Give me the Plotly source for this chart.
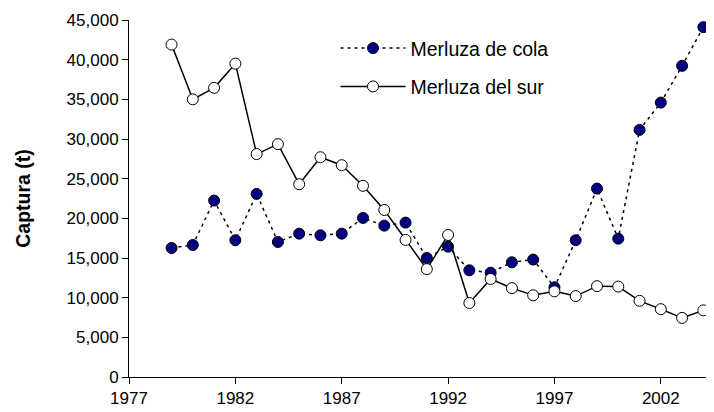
import plotly.graph_objects as go

years = list(range(1979, 2005))
merluza_de_cola = [16260, 16640, 22240, 17240, 23080, 17020, 18070, 17860, 18070, 20050,
                   19080, 19460, 15000, 16430, 13450, 13150, 14460, 14800, 11310, 17240,
                   23750, 17440, 31150, 34590, 39220, 44100]
merluza_del_sur = [41900, 35000, 36450, 39500, 28100, 29350, 24300, 27700, 26700, 24100,
                   21050, 17280, 13600, 17900, 9330, 12360, 11200, 10300, 10800, 10200,
                   11450, 11400, 9600, 8550, 7450, 8400]
x_ticks = [1977, 1982, 1987, 1992, 1997, 2002]
y_ticks = list(range(0, 45001, 5000))

fig = go.Figure()
fig.add_trace(go.Scatter(
    x=years, y=merluza_de_cola, name="Merluza de cola", mode="lines+markers",
    legendgroup="a", cliponaxis=False,
    line=dict(color="black", width=1.5, dash="3px,4px"),
    marker=dict(size=11, color="#000080", line=dict(color="black", width=1)),
))
fig.add_trace(go.Scatter(
    x=years, y=merluza_del_sur, name="Merluza del sur", mode="lines+markers",
    legendgroup="b", cliponaxis=False,
    line=dict(color="black", width=1.5),
    marker=dict(size=11, color="white", line=dict(color="black", width=1)),
))

fig.update_layout(
    width=706, height=404,
    margin=dict(l=121, r=0, t=12, b=35, autoexpand=False),
    paper_bgcolor="white", plot_bgcolor="white",
    font=dict(family="Liberation Sans, Arial", size=17, color="black"),
    showlegend=True,
    legend=dict(x=0.353, y=0.975, xanchor="left", yanchor="top",
                font=dict(size=19.5), itemwidth=65, tracegroupgap=10,
                bgcolor="rgba(0,0,0,0)", traceorder="grouped",
                itemsizing="trace"),
    xaxis=dict(range=[1977, 2004.5], tickmode="array", tickvals=x_ticks,
               ticks="outside", ticklen=6, tickcolor="black",
               showline=True, linecolor="black", linewidth=1,
               showgrid=False, zeroline=False, automargin=False),
    yaxis=dict(range=[0, 45000], tickmode="array", tickvals=y_ticks,
               tickformat=",d", ticks="outside", ticklen=6, tickcolor="black",
               showline=True, linecolor="black", linewidth=1,
               showgrid=False, zeroline=False, automargin=False,
               title=dict(text="<b>Captura (t)</b>", font=dict(size=19.5), standoff=30)),
)

fig.write_html("out.html")
